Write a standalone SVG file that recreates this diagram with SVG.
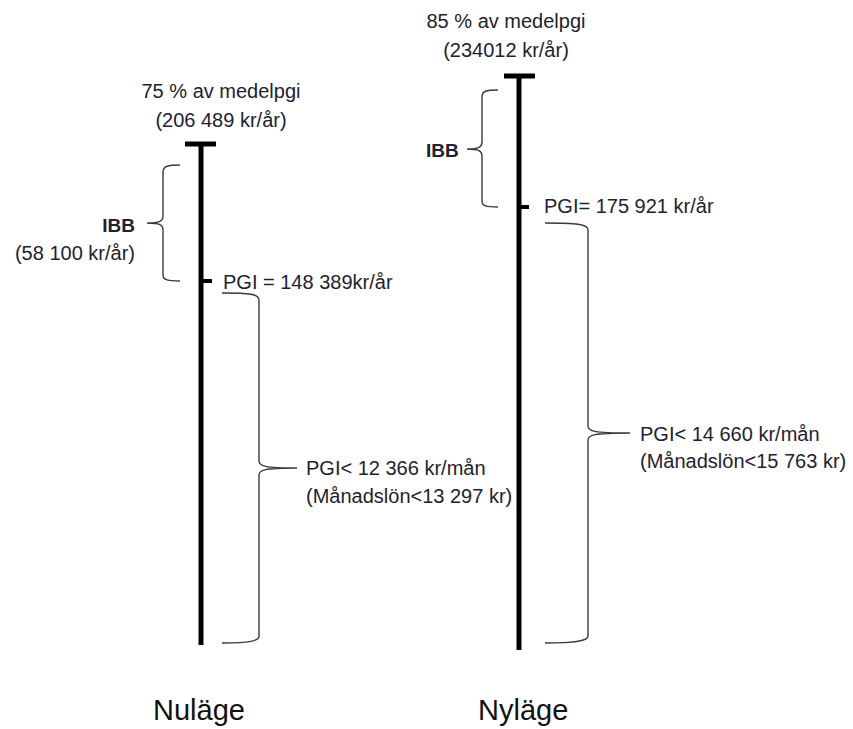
<svg xmlns="http://www.w3.org/2000/svg" width="853" height="729" viewBox="0 0 853 729">
<style>
text{font-family:"Liberation Sans",Arial,sans-serif;fill:#1e2230;font-size:20px}
.b{font-weight:bold;font-size:19px}
.t{font-size:29px;fill:#111}
.axis{stroke:#000;stroke-width:5;fill:none}
.tick{stroke:#000;stroke-width:4;fill:none}
.brace{stroke:#3a3a3a;stroke-width:1.4;fill:none}
</style>
<rect width="853" height="729" fill="#fff"/>
<g id="connectors">
<line class="axis" x1="201" y1="144" x2="201" y2="645"/>
<line class="axis" x1="185" y1="144" x2="216" y2="144"/>
<line class="tick" x1="201" y1="281" x2="212" y2="281"/>
<line class="axis" x1="519" y1="76" x2="519" y2="650"/>
<line class="axis" x1="504" y1="76" x2="535" y2="76"/>
<line class="tick" x1="519" y1="207" x2="529" y2="207"/>
</g>
<g id="brace-ibb-left">
<path class="brace" d="M180,165 C168,165 163,166 163,172 L163,216 C163,221 160,223 147,223 M147,223 C160,223 163,225 163,230 L163,275 C163,280 168,281 180,281"/>
</g>
<g id="brace-ibb-right">
<path class="brace" d="M498,90 C486,90 482,91 482,97 L482,142 C482,147 479,149 467,149 M467,149 C479,149 482,151 482,156 L482,201 C482,206 486,207 498,207"/>
</g>
<g id="brace-pgi-left">
<path class="brace" d="M222,293 C250,293 259,294 259,300 L259,461 C259,466 264,468 297,468 M297,468 C264,468 259,470 259,475 L259,636 C259,641 250,643 222,643"/>
</g>
<g id="brace-pgi-right">
<path class="brace" d="M545,223 C576,223 588,224 588,230 L588,426 C588,431 593,433 630,433 M630,433 C593,433 588,435 588,440 L588,636 C588,641 576,643 545,643"/>
</g>
<g id="label-left-top">
<text x="221" y="98" text-anchor="middle">75 % av medelpgi</text>
<text x="221" y="127" text-anchor="middle">(206 489 kr/år)</text>
</g>
<g id="label-right-top">
<text x="506" y="28" text-anchor="middle">85 % av medelpgi</text>
<text x="506" y="57" text-anchor="middle">(234012 kr/år)</text>
</g>
<g id="label-ibb-left">
<text class="b" x="135" y="232" text-anchor="end">IBB</text>
<text x="135" y="260" text-anchor="end">(58 100 kr/år)</text>
</g>
<g id="label-ibb-right">
<text class="b" x="426" y="157">IBB</text>
</g>
<g id="label-pgi-left">
<text x="223" y="289">PGI = 148 389kr/år</text>
</g>
<g id="label-pgi-right">
<text x="544" y="213">PGI= 175 921 kr/år</text>
</g>
<g id="label-lim-left">
<text x="306" y="475">PGI&lt; 12 366 kr/mån</text>
<text x="306" y="503">(Månadslön&lt;13 297 kr)</text>
</g>
<g id="label-lim-right">
<text x="640" y="441">PGI&lt; 14 660 kr/mån</text>
<text x="640" y="468">(Månadslön&lt;15 763 kr)</text>
</g>
<g id="title-left">
<text class="t" x="153" y="720">Nuläge</text>
</g>
<g id="title-right">
<text class="t" x="478" y="720">Nyläge</text>
</g>
</svg>
